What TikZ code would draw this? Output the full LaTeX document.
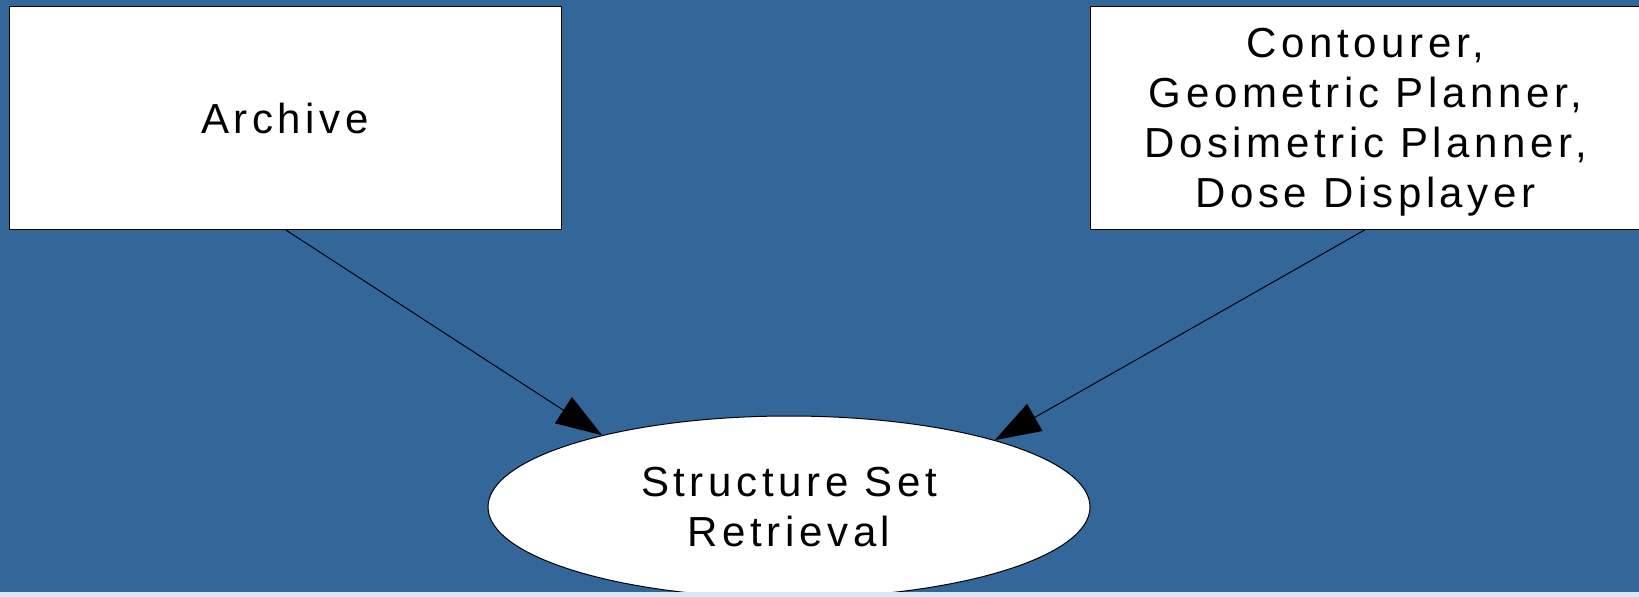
\documentclass[tikz,border=0pt]{standalone}
\usepackage{fontspec}
\setmainfont{Liberation Sans}[LetterSpace=11]
\usetikzlibrary{shapes.geometric,arrows.meta}
\definecolor{bgblue}{RGB}{51,102,153}
\definecolor{striplight}{RGB}{220,230,242}
\tikzset{
  box/.style={draw=black,fill=white,line width=0.5pt,inner sep=0pt,align=center,font=\fontsize{21}{25}\selectfont},
  flow/.style={draw=black,line width=0.5pt,-{Triangle[length=23pt,width=15.5pt]}}
}
\begin{document}
\begin{tikzpicture}[x=0.5pt,y=0.5pt]
\fill[bgblue] (0,0) rectangle (1639,596);
\useasboundingbox (0,0) rectangle (1639,596);
\node[box,minimum width=276pt,minimum height=111pt] (archive) at (285,478) {Archive};
\node[box,minimum width=275.5pt,minimum height=111pt,text depth=0pt] (tools) at (1365.5,478) {Contourer,\\Geometric Planner,\\Dosimetric Planner,\\Dose Displayer};
\node[box,ellipse,minimum width=301pt,minimum height=91pt] (ret) at (789,89) {Structure Set\\Retrieval};
\draw[flow] (archive.south) -- (ret.159.6);
\draw[flow] (tools.south) -- (ret.18.2);
\fill[striplight] (0,-2) rectangle (1639,4);
\end{tikzpicture}
\end{document}
